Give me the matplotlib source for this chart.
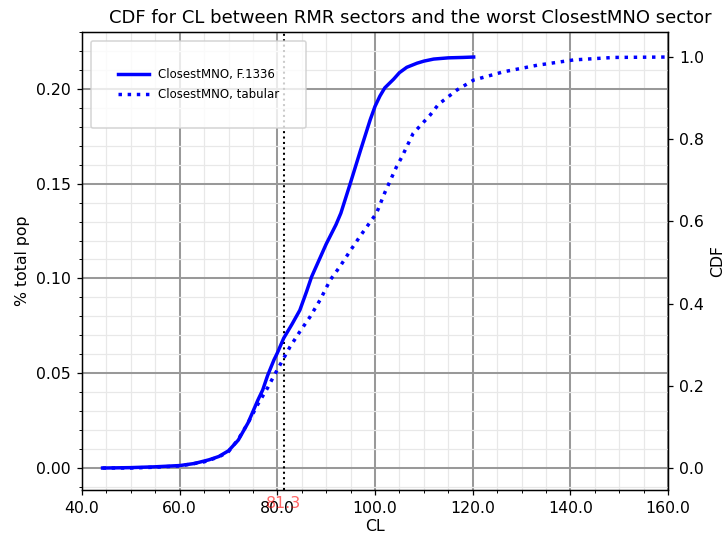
import matplotlib
matplotlib.use("Agg")
import matplotlib.pyplot as plt
from matplotlib.ticker import MultipleLocator, FormatStrFormatter

# CDF of coupling loss (dB) for the two propagation models
cl_f1336 = [44.2, 50, 55, 60, 63, 66, 68, 70, 72, 74, 76, 77, 78, 79.3, 80,
            81.3, 83, 84.6, 86, 87, 88.5, 90, 92, 93, 95, 97, 99, 100, 101,
            102, 103.8, 105, 106.5, 108.6, 110, 112, 115, 118, 120.2]
cdf_f1336 = [0.0, 0.001, 0.003, 0.006, 0.011, 0.020, 0.028, 0.042, 0.068,
             0.11, 0.165, 0.19, 0.225, 0.263, 0.28, 0.316, 0.35, 0.384, 0.43,
             0.465, 0.505, 0.545, 0.592, 0.62, 0.695, 0.772, 0.847, 0.88,
             0.905, 0.925, 0.946, 0.962, 0.975, 0.985, 0.99, 0.995, 0.998,
             0.999, 1.0]

cl_tab = [44.2, 50, 55, 60, 65, 68, 70, 72, 74, 76, 78, 79.2, 80.5, 82.6,
          84.5, 86.7, 88.8, 90.8, 92.8, 95, 97, 98.5, 100.3, 102, 104.4,
          105.5, 107.8, 111.3, 113, 116.8, 120.2, 126.3, 133.2, 140.7,
          148.9, 160]
cdf_tab = [0.0, 0.0, 0.002, 0.005, 0.015, 0.027, 0.040, 0.07, 0.11, 0.155,
           0.195, 0.222, 0.25, 0.295, 0.33, 0.368, 0.41, 0.457, 0.49, 0.53,
           0.565, 0.59, 0.62, 0.67, 0.733, 0.757, 0.814, 0.859, 0.885, 0.92,
           0.944, 0.964, 0.98, 0.993, 0.999, 1.0]

marker_cl = 81.3
marker_label = "81.3"

labels = ["ClosestMNO, F.1336", "ClosestMNO, tabular"]

dpi = 113
fig = plt.figure(figsize=(724 / dpi, 537 / dpi), dpi=dpi)
ax = fig.add_axes([0.1133, 0.0875, 0.8094, 0.853])
ax2 = ax.twinx()

ax.set_xlim(40, 160)
ax.set_ylim(-0.0116, 0.230)
ax2.set_ylim(-0.0535, 1.061)

ax.xaxis.set_major_locator(MultipleLocator(20))
ax.xaxis.set_minor_locator(MultipleLocator(5))
ax.xaxis.set_major_formatter(FormatStrFormatter("%.1f"))
ax.yaxis.set_major_locator(MultipleLocator(0.05))
ax.yaxis.set_minor_locator(MultipleLocator(0.01))
ax.yaxis.set_major_formatter(FormatStrFormatter("%.2f"))
ax2.yaxis.set_major_locator(MultipleLocator(0.2))
ax2.yaxis.set_major_formatter(FormatStrFormatter("%.1f"))

ax.grid(which="major", color="#999999", linewidth=1.3)
ax.grid(which="minor", color="#e8e8e8", linewidth=0.8)

ax.axvline(marker_cl, color="black", linestyle=":", linewidth=1.3, zorder=3)
ax.text(marker_cl, -0.012, marker_label, transform=ax.get_xaxis_transform(),
        ha="center", va="top", color="red", alpha=0.6, fontsize=10)

ax2.plot(cl_f1336, cdf_f1336, color="blue", linewidth=2.2, label=labels[0])
ax2.plot(cl_tab, cdf_tab, color="blue", linestyle=":", linewidth=2.2,
         label=labels[1])

leg = ax2.legend(loc="upper left", fontsize=7.5, borderpad=2.3,
                 borderaxespad=0.75, handlelength=2.6, labelspacing=0.6,
                 framealpha=0.8)
leg.set_zorder(5)

ax.set_xlabel("CL", fontsize=10, labelpad=2)
ax.set_ylabel("% total pop", fontsize=10)
ax2.set_ylabel("CDF", fontsize=10)
ax.tick_params(labelsize=10)
ax2.tick_params(labelsize=10)
ax.set_title("CDF for CL between RMR sectors and the worst ClosestMNO sector",
             fontsize=11.5, x=0.561)

fig.savefig("out.png", dpi=dpi)
